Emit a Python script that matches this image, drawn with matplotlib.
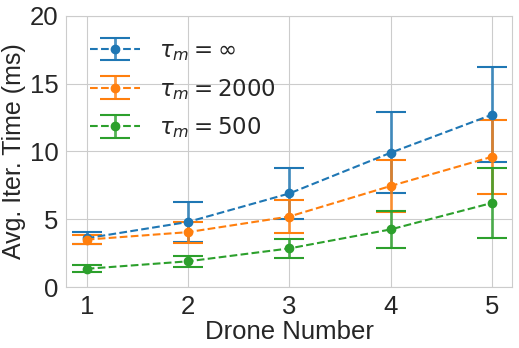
import numpy as np
import matplotlib
matplotlib.use("Agg")
import matplotlib.pyplot as plt
import seaborn as sns

# 数据
drones = [1, 2, 3, 4, 5]
labels = [r"$\tau_m = \infty$", r"$\tau_m = 2000$", r"$\tau_m = 500$"]
mean_inf = [3.6, 4.8, 6.9, 9.9, 12.7]
err_inf = [0.44, 1.5, 1.87, 2.97, 3.5]
mean_2000 = [3.5, 4.05, 5.2, 7.45, 9.6]
err_2000 = [0.33, 0.78, 1.24, 1.89, 2.74]
mean_500 = [1.35, 1.9, 2.85, 4.25, 6.2]
err_500 = [0.26, 0.4, 0.7, 1.39, 2.6]

sns.set_style("whitegrid")
plt.rcParams['font.family'] = ['Liberation Sans', 'DejaVu Sans']

fig, ax = plt.subplots(figsize=(5.19, 3.48), dpi=100)

for m, e, lab in zip([mean_inf, mean_2000, mean_500],
                     [err_inf, err_2000, err_500], labels):
    eb = ax.errorbar(drones, m, yerr=e, fmt='o--', markersize=6, capsize=11,
                     linewidth=1.5, elinewidth=2, capthick=1.5, label=lab)
    eb[2][0].set_alpha(0.8)

ax.set_xlim(0.8, 5.2)
ax.set_ylim(0, 20)
ax.set_xticks(drones)
ax.set_yticks([0, 5, 10, 15, 20])
ax.tick_params(labelsize=18.5, pad=2)
ax.set_xlabel("Drone Number", fontsize=18.5, labelpad=1)
ax.set_ylabel("Avg. Iter. Time (ms)", fontsize=18, labelpad=3)
ax.legend(fontsize=16.5, loc='upper left', frameon=False, handlelength=2.2,
          handletextpad=0.8, labelspacing=0.6, borderaxespad=0.62)

fig.subplots_adjust(left=0.128, right=0.987, top=0.955, bottom=0.175)
fig.savefig("out.png", dpi=100)
